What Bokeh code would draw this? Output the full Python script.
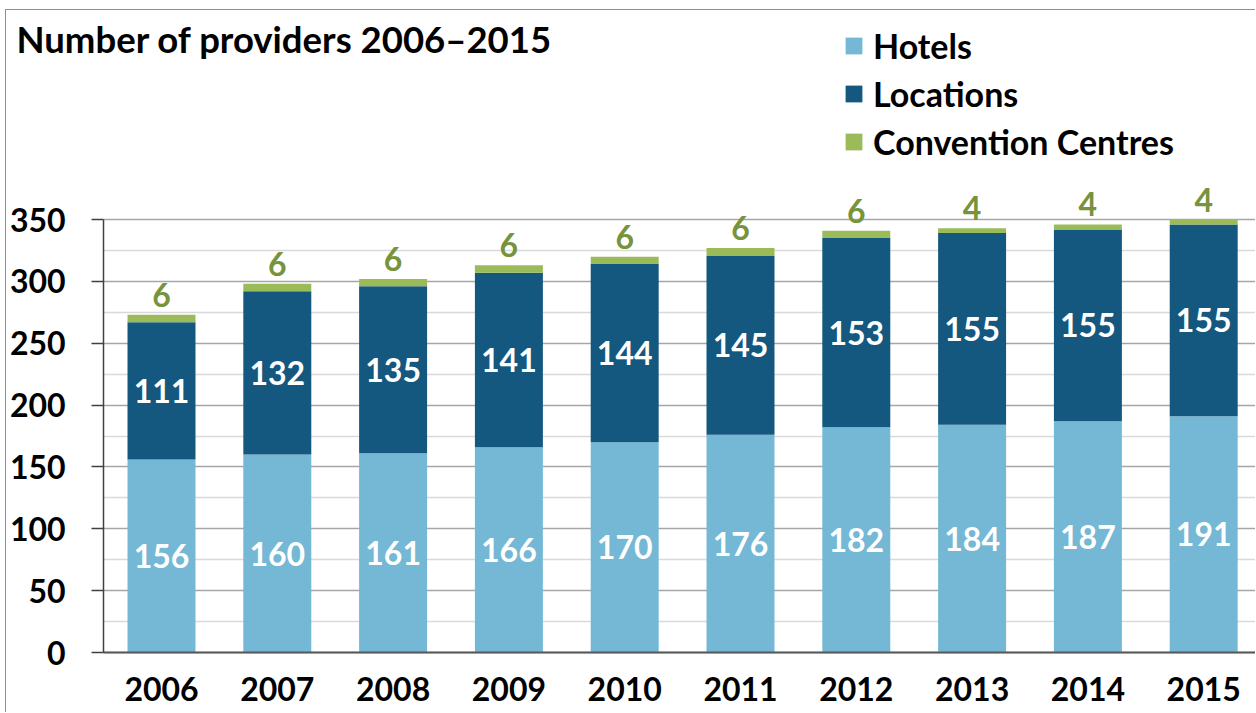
from bokeh.plotting import figure
from bokeh.models import (Range1d, FixedTicker, Label, Legend, LegendItem,
                          ColumnDataSource, BoxAnnotation)
from bokeh.core.properties import value
from bokeh.embed import file_html
from bokeh.resources import INLINE

# ---- data ----
years = [2006, 2007, 2008, 2009, 2010, 2011, 2012, 2013, 2014, 2015]
hotels = [156, 160, 161, 166, 170, 176, 182, 184, 187, 191]
locations = [111, 132, 135, 141, 144, 145, 153, 155, 155, 155]
centres = [6, 6, 6, 6, 6, 6, 6, 4, 4, 4]
series_names = ["Hotels", "Locations", "Convention Centres"]
y_ticks = [0, 50, 100, 150, 200, 250, 300, 350]
y_minor_ticks = [25, 75, 125, 175, 225, 275, 325]
title_text = "Number of providers 2006\u20132015"

# ---- styles / geometry ----
FONT = "Lato"
C_HOT = "#74B8D5"
C_LOC = "#14577F"
C_CEN = "#9BBB59"
C_CEN_TXT = "#77933C"
FS = "32px"
OFF_L, OFF_T = 6, 10          # canvas origin on the page (margin + border)
W, H = 1256 - OFF_L, 713 - OFF_T
PX_PER_YEAR = 115.8
PX_PER_UNIT = 1.2371
X_AXIS_AT = years[0] - 0.5
x0 = years[0] - (161 - OFF_L) / PX_PER_YEAR
x1 = x0 + W / PX_PER_YEAR
y1 = (652 - OFF_T) / PX_PER_UNIT
y0 = -(713 - 652) / PX_PER_UNIT

src = ColumnDataSource(dict(
    year=years,
    hotels=hotels,
    locations=locations,
    centres=centres,
    h_mid=[h / 2 for h in hotels],
    l_mid=[h + l / 2 for h, l in zip(hotels, locations)],
    top=[h + l + c for h, l, c in zip(hotels, locations, centres)],
    h_txt=[str(v) for v in hotels],
    l_txt=[str(v) for v in locations],
    c_txt=[str(v) for v in centres],
))

p = figure(width=W, height=H, output_backend="svg", toolbar_location=None,
           x_range=Range1d(x0, x1), y_range=Range1d(y0, y1),
           min_border_left=0, min_border_right=0, min_border_top=0,
           min_border_bottom=0)
p.outline_line_color = None
p.styles = {"border-top": "1px solid #8f8f8f", "border-left": "1px solid #8f8f8f",
            "margin-left": "%dpx" % (OFF_L - 1), "margin-top": "%dpx" % (OFF_T - 1)}

# grid
yt = FixedTicker(ticks=y_ticks, minor_ticks=y_minor_ticks)
p.xgrid.grid_line_color = None
p.ygrid.ticker = yt
p.ygrid.grid_line_color = "#A6A6A6"
p.ygrid.grid_line_width = 1.5
p.ygrid.minor_grid_line_color = "#D9D9D9"
p.ygrid.minor_grid_line_width = 1.5
g = p.ygrid[0]
if "cross_bounds" in g.properties():
    g.cross_bounds = (X_AXIS_AT, x1)
else:
    p.add_layout(BoxAnnotation(right=X_AXIS_AT, fill_color="white", fill_alpha=1,
                               line_color=None, level="underlay"))

rs = p.vbar_stack(["hotels", "locations", "centres"], x="year", width=0.587,
                  color=[C_HOT, C_LOC, C_CEN], line_color=None, source=src)

# value labels
p.text(x="year", y="h_mid", text="h_txt", source=src, text_color="white",
       text_font=value(FONT), text_font_style="bold", text_font_size=FS,
       text_align="center", text_baseline="middle")
p.text(x="year", y="l_mid", text="l_txt", source=src, text_color="white",
       text_font=value(FONT), text_font_style="bold", text_font_size=FS,
       text_align="center", text_baseline="middle")
p.text(x="year", y="top", text="c_txt", source=src, text_color=C_CEN_TXT,
       text_font=value(FONT), text_font_style="bold", text_font_size=FS,
       text_align="center", text_baseline="alphabetic", y_offset=-20)

# axes (drawn at fixed data locations, taking no panel space)
p.yaxis.fixed_location = X_AXIS_AT
p.yaxis.ticker = yt
p.yaxis.bounds = (0, 350)
p.yaxis.axis_line_color = "#404040"
p.yaxis.axis_line_width = 1.5
p.yaxis.major_tick_out = 12
p.yaxis.major_tick_in = 0
p.yaxis.major_tick_line_color = "#404040"
p.yaxis.major_tick_line_width = 1.5
p.yaxis.minor_tick_out = 0
p.yaxis.minor_tick_in = 0
p.yaxis.major_label_text_font = FONT
p.yaxis.major_label_text_font_style = "bold"
p.yaxis.major_label_text_font_size = FS
p.yaxis.major_label_text_color = "black"
p.yaxis.major_label_standoff = 26

p.xaxis.fixed_location = 0
p.xaxis.bounds = (X_AXIS_AT, x1)
p.xaxis.ticker = FixedTicker(ticks=years)
p.xaxis.major_label_overrides = {y: str(y) for y in years}
p.xaxis.axis_line_color = "#595959"
p.xaxis.axis_line_width = 2
p.xaxis.major_tick_out = 0
p.xaxis.major_tick_in = 0
p.xaxis.minor_tick_out = 0
p.xaxis.minor_tick_in = 0
p.xaxis.major_label_text_font = FONT
p.xaxis.major_label_text_font_style = "bold"
p.xaxis.major_label_text_font_size = FS
p.xaxis.major_label_text_color = "black"
p.xaxis.major_label_standoff = 24

# title
p.add_layout(Label(x=16 - OFF_L, y=713 - 38, x_units="screen", y_units="screen",
                   text=title_text, text_font=FONT, text_font_style="bold",
                   text_font_size="36.5px", text_color="black",
                   text_baseline="alphabetic"))

# legend
legend = Legend(items=[LegendItem(label=n, renderers=[r]) for n, r in zip(series_names, rs)],
                location=(843 - OFF_L, 551), orientation="vertical",
                border_line_color=None, background_fill_alpha=0,
                label_text_font=FONT, label_text_font_style="bold",
                label_text_font_size="34px", label_text_color="black",
                glyph_width=21, glyph_height=21, label_standoff=9,
                spacing=7, padding=0, margin=0)
p.add_layout(legend)

open("out.html", "w").write(file_html(p, INLINE))
